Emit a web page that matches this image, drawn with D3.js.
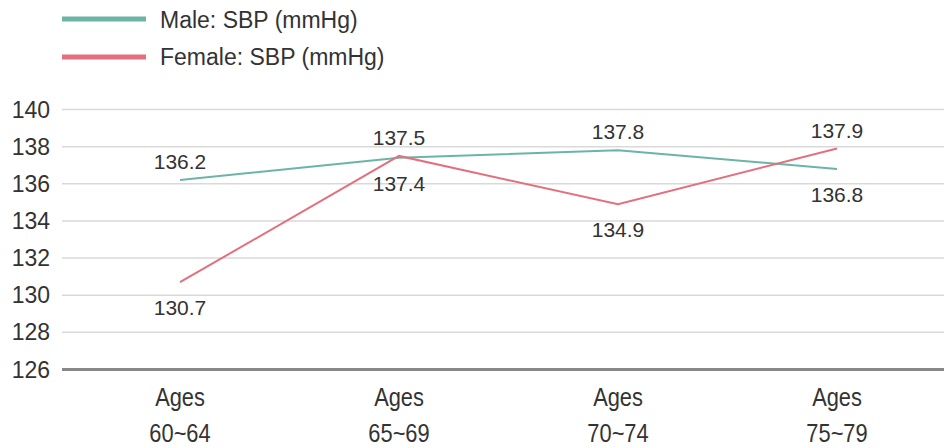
<!DOCTYPE html>
<html><head><meta charset="utf-8">
<script src="https://cdn.jsdelivr.net/npm/d3@7"></script>
<style>body{margin:0;background:#fff}svg{display:block}</style>
</head><body>
<svg id="c" width="944" height="448"></svg>
<script>
const categories = ["Ages|60~64", "Ages|65~69", "Ages|70~74", "Ages|75~79"];
const maleValues = [136.2, 137.4, 137.8, 136.8];
const femaleValues = [130.7, 137.5, 134.9, 137.9];
const maleLabelPos = ["above", "below", "above", "below"];
const femaleLabelPos = ["below", "above", "below", "above"];
const yTicks = [126, 128, 130, 132, 134, 136, 138, 140];
const seriesNames = ["Male: SBP (mmHg)", "Female: SBP (mmHg)"];
const colors = ["#6cb4a6", "#e2707f"];

const svg = d3.select("#c");
const x = d3.scalePoint().domain(categories).range([70.5, 946.5]).padding(0.5);
const y = d3.scaleLinear().domain([126, 140]).range([369.5, 109.5]);
const font = "'Liberation Sans', Arial, Helvetica, sans-serif";

// grid
svg.append("g").selectAll("line").data(yTicks.filter(d => d !== 126)).join("line")
  .attr("x1", 62).attr("x2", 944)
  .attr("y1", d => y(d)).attr("y2", d => y(d))
  .attr("stroke", "#d9d9d9").attr("stroke-width", 1.5);
svg.append("line").attr("x1", 62).attr("x2", 944).attr("y1", y(126)).attr("y2", y(126))
  .attr("stroke", "#888").attr("stroke-width", 3);

// y tick labels
svg.append("g").selectAll("text").data(yTicks).join("text")
  .attr("x", 50).attr("y", d => y(d) + 8)
  .attr("text-anchor", "end").attr("font-family", font).attr("font-size", 23)
  .attr("fill", "#333").text(d => d);

// x labels (condensed look via horizontal scale)
const xg = svg.append("g").selectAll("g").data(categories).join("g")
  .attr("transform", d => `translate(${x(d)},0) scale(0.84,1)`);
const xl = xg.append("text").attr("text-anchor", "middle").attr("font-family", font)
  .attr("font-size", 26).attr("fill", "#333");
xl.append("tspan").attr("x", 0).attr("y", 406).text(d => d.split("|")[0]);
xl.append("tspan").attr("x", 0).attr("y", 442).text(d => d.split("|")[1]);

// lines
const line = d3.line().x((d, i) => x(categories[i])).y(d => y(d));
[maleValues, femaleValues].forEach((vals, k) => {
  svg.append("path").datum(vals).attr("d", line).attr("fill", "none")
    .attr("stroke", colors[k]).attr("stroke-width", 2);
});

// labels
[[maleValues, maleLabelPos], [femaleValues, femaleLabelPos]].forEach(([vals, pos]) => {
  svg.append("g").selectAll("text").data(vals).join("text")
    .attr("x", (d, i) => x(categories[i]))
    .attr("y", (d, i) => pos[i] === "above" ? y(d) - 11 : y(d) + 33)
    .attr("text-anchor", "middle").attr("font-family", font).attr("font-size", 21)
    .attr("fill", "#333").text(d => d.toFixed(1));
});

// legend
const lg = svg.append("g").selectAll("g").data(seriesNames).join("g");
lg.append("line").attr("x1", 62).attr("x2", 146)
  .attr("y1", (d, i) => 19 + i * 38).attr("y2", (d, i) => 19 + i * 38)
  .attr("stroke", (d, i) => colors[i]).attr("stroke-width", 5);
lg.append("text").attr("x", 160).attr("y", (d, i) => 28 + i * 37)
  .attr("font-family", font).attr("font-size", 23).attr("fill", "#333").text(d => d);
</script>
</body></html>
